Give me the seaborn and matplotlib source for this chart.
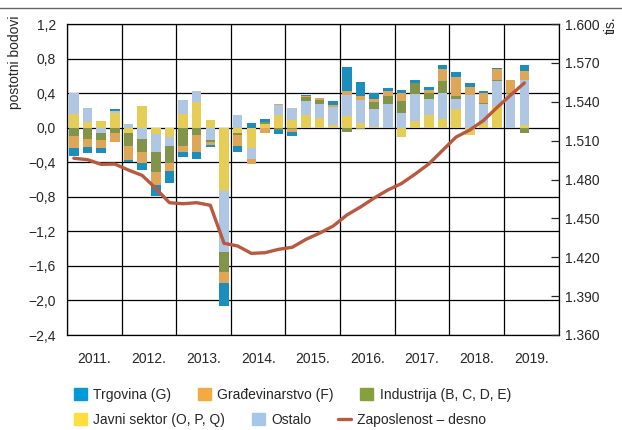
import numpy as np
import pandas as pd
import matplotlib.pyplot as plt
from matplotlib.patches import Patch
from matplotlib.lines import Line2D
import seaborn as sns

# quarterly data, 2011 Q1 - 2019 Q2
years = ["2011.", "2012.", "2013.", "2014.", "2015.", "2016.", "2017.", "2018.", "2019."]

trgovina = [-0.093, -0.07, -0.058, 0.02, -0.023, -0.08, -0.132, -0.14,
            -0.058, -0.074, -0.023, -0.264, -0.074, 0.054, 0.04, -0.05,
            -0.05, 0.012, 0.0, 0.05, 0.28, 0.155, 0.066, 0.035,
            0.03, 0.043, 0.035, 0.05, 0.062, 0.039, 0.027, 0.012,
            0.0, 0.066]
gradjevinarstvo = [-0.136, -0.093, -0.093, -0.105, -0.163, -0.136, -0.148, -0.085,
                   -0.074, -0.2, -0.035, -0.132, -0.13, -0.062, -0.058, 0.015,
                   -0.03, 0.015, 0.02, 0.023, 0.047, 0.043, 0.03, 0.058,
                   0.093, 0.0, 0.035, 0.14, 0.22, 0.093, 0.11, 0.13,
                   0.147, 0.105]
industrija = [-0.10, -0.13, -0.085, -0.066, -0.155, -0.14, -0.23, -0.2,
              -0.21, -0.085, -0.023, -0.23, -0.023, 0.0, 0.02, -0.025,
              -0.02, 0.043, 0.05, 0.0, -0.05, -0.02, 0.09, 0.093,
              0.147, 0.124, 0.078, 0.144, 0.035, 0.0, 0.02, 0.015,
              0.012, -0.058]
javni = [0.163, 0.07, 0.074, 0.167, -0.062, 0.25, -0.074, -0.113,
         0.155, 0.30, 0.085, -0.73, -0.06, -0.233, 0.043, 0.15,
         0.09, 0.144, 0.109, 0.027, 0.136, 0.05, 0.012, 0.0,
         -0.105, 0.078, 0.147, 0.097, 0.213, -0.085, 0.058, 0.25,
         0.0, 0.03]
ostalo = [0.237, 0.16, -0.062, 0.027, 0.04, -0.136, -0.21, -0.10,
          0.16, 0.128, -0.148, -0.707, 0.15, -0.124, 0.0, 0.11,
          0.14, 0.167, 0.16, 0.21, 0.245, 0.275, 0.2, 0.27,
          0.167, 0.31, 0.18, 0.30, 0.12, 0.38, 0.213, 0.287,
          0.395, 0.52]
# employment, thousands (right axis)
zaposlenost = [1496.4, 1495.3, 1491.7, 1491.9, 1487.3, 1483.2, 1473.2, 1462.1,
               1461.3, 1462.1, 1460.1, 1430.8, 1428.7, 1423.0, 1423.5, 1426.1,
               1427.7, 1433.8, 1438.6, 1444.1, 1452.6, 1458.8, 1465.7, 1471.9,
               1476.9, 1484.2, 1492.0, 1502.4, 1512.8, 1518.2, 1525.5, 1535.6,
               1545.2, 1554.5]

left_ticks = [1.2, 0.8, 0.4, 0.0, -0.4, -0.8, -1.2, -1.6, -2.0, -2.4]
left_labels = ["1,2", "0,8", "0,4", "0,0", "\u22120,4", "\u22120,8", "\u22121,2", "\u22121,6", "\u22122,0", "\u22122,4"]
right_ticks = [1600, 1570, 1540, 1510, 1480, 1450, 1420, 1390, 1360]
right_labels = ["1.600", "1.570", "1.540", "1.510", "1.480", "1.450", "1.420", "1.390", "1.360"]

# stacking order (from zero outwards) and colours
series = [
    ("Javni sektor (O, P, Q)", javni, "#fedd3f"),
    ("Ostalo", ostalo, "#a7c7ea"),
    ("Industrija (B, C, D, E)", industrija, "#87a03e"),
    ("Građevinarstvo (F)", gradjevinarstvo, "#f7a941"),
    ("Trgovina (G)", trgovina, "#009ad8"),
]
line_color = "#b9593f"

sns.set_style("white")
plt.rcParams["font.family"] = ["Liberation Sans Narrow", "Liberation Sans", "DejaVu Sans"]
plt.rcParams["font.size"] = 10

n = len(zaposlenost)
pos = np.arange(n)

fig = plt.figure(figsize=(6.22, 4.30), dpi=100)
ax = fig.add_axes([67 / 622, 1 - 335 / 430, (558.5 - 67) / 622, (335 - 24) / 430])

# diverging stacked bars: positives stack upwards, negatives downwards
pos_base = np.zeros(n)
neg_base = np.zeros(n)
for name, vals, col in series:
    v = np.array(vals)
    base = np.where(v >= 0, pos_base, neg_base)
    df = pd.DataFrame({"q": pos, "v": v})
    sns.barplot(data=df, x="q", y="v", bottom=base, color=col, native_scale=True,
                width=0.7, errorbar=None, edgecolor="none", linewidth=0, ax=ax)
    pos_base = pos_base + np.where(v >= 0, v, 0)
    neg_base = neg_base + np.where(v < 0, v, 0)

ax.set_xlim(-0.5, 35.5)
ax.set_ylim(-2.4, 1.2)
ax.set_yticks(left_ticks)
ax.set_yticklabels(left_labels)
ax.set_xticks(np.arange(len(years)) * 4 + 1.5)
ax.set_xticklabels(years)
ax.set_xlabel("")
ax.set_ylabel("")
ax.tick_params(axis="both", length=0, labelsize=10)
ax.tick_params(axis="y", pad=8)
ax.tick_params(axis="x", pad=12)
ax.set_axisbelow(True)
for t in left_ticks:
    ax.axhline(t, color="black", lw=0.9, zorder=0)
for b in np.arange(len(years) + 1) * 4 - 0.5:
    ax.axvline(b, color="black", lw=0.9, zorder=0)
for s in ax.spines.values():
    s.set_color("black")
    s.set_linewidth(0.9)

ax2 = ax.twinx()
sns.lineplot(x=pos, y=zaposlenost, color=line_color, lw=2.4, ax=ax2)
ax2.set_ylim(1360, 1600)
ax2.set_yticks(right_ticks)
ax2.set_yticklabels(right_labels)
ax2.tick_params(axis="y", direction="in", length=6, width=0.9, pad=5, labelsize=10)
ax2.set_xlim(-0.5, 35.5)
for s in ax2.spines.values():
    s.set_visible(False)

fig.text(15 / 622, 1 - 62 / 430, "postotni bodovi", rotation=90, ha="center", va="center", fontsize=10)
fig.text(611 / 622, 1 - 25 / 430, "tis.", rotation=90, ha="center", va="center", fontsize=10)

# top rule
fig.add_artist(Line2D([0, 1], [1 - 8 / 430, 1 - 8 / 430], color="#666666", lw=1,
                      transform=fig.transFigure))

row1 = [Patch(color=series[4][2], label=series[4][0]),
        Patch(color=series[3][2], label=series[3][0]),
        Patch(color=series[2][2], label=series[2][0])]
row2 = [Patch(color=series[0][2], label=series[0][0]),
        Patch(color=series[1][2], label=series[1][0]),
        Line2D([0], [0], color=line_color, lw=2.4, label="Zaposlenost \u2013 desno")]
leg_kw = dict(ncol=3, frameon=False, fontsize=10, handlelength=0.95, handleheight=0.95,
              handletextpad=0.45, columnspacing=1.9, borderpad=0, borderaxespad=0,
              loc="center left")
fig.legend(handles=row1, bbox_to_anchor=(74 / 622, 1 - 395 / 430), **leg_kw)
fig.legend(handles=row2, bbox_to_anchor=(74 / 622, 1 - 420 / 430), **leg_kw)

fig.savefig("out.png", dpi=100)
